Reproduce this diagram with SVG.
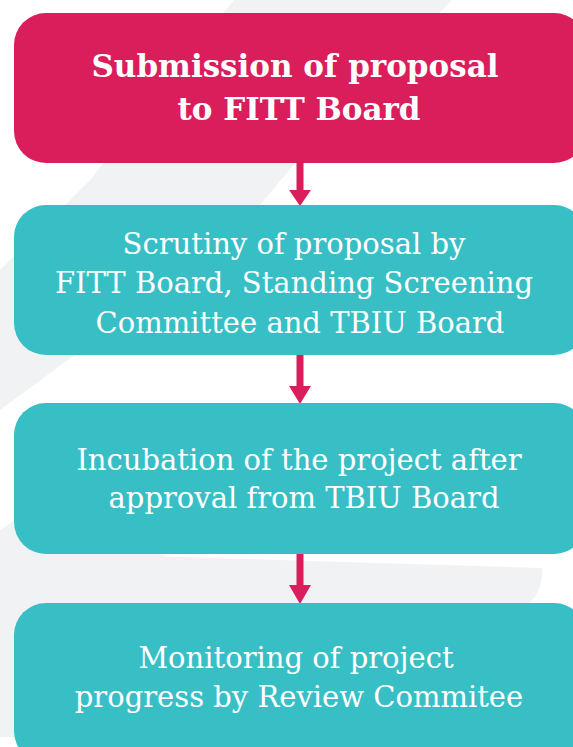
<svg xmlns="http://www.w3.org/2000/svg" width="573" height="747" viewBox="0 0 573 747">
<defs>
<style>
.bg{fill:#F1F2F4}
.pink{fill:#D91E5B}
.teal{fill:#38BFC5}
.t{font-family:"DejaVu Serif","Liberation Serif",serif;fill:#FFFFFF;text-anchor:middle}
.tb{font-size:31px;font-weight:bold}
.tr{font-size:29px}
.conn line{stroke:#D91E5B;stroke-width:7}
.conn polygon{fill:#D91E5B}
</style>
</defs>
<rect width="573" height="747" fill="#FFFFFF"/>
<g id="background">
<path class="bg" d="M234,0 L452,0 L295,163 L260,205 L80,351 L0,410 L0,270 L91,179 Z"/>
<path class="bg" d="M0,530 L30,510 L160,554 Q165,557 178,557 L542,568 C544,592 530,608 505,618 L300,700 L14,737 L0,737 Z"/>
</g>
<g id="connectors" class="conn">
<line x1="300" y1="160" x2="300" y2="192"/>
<polygon points="289,190 311,190 300,206"/>
<line x1="300" y1="352" x2="300" y2="388"/>
<polygon points="289,386 311,386 300,404"/>
<line x1="300" y1="551" x2="300" y2="587"/>
<polygon points="289,585 311,585 300,604"/>
</g>
<g id="node1">
<rect class="pink" x="14" y="13" width="572" height="150" rx="32"/>
<text class="t tb" x="295" y="77">Submission of proposal</text>
<text class="t tb" x="299" y="120">to FITT Board</text>
</g>
<g id="node2">
<rect class="teal" x="14" y="205" width="572" height="150" rx="32"/>
<text class="t tr" x="294" y="254">Scrutiny of proposal by</text>
<text class="t tr" x="294" y="293">FITT Board, Standing Screening</text>
<text class="t tr" x="300" y="333">Committee and TBIU Board</text>
</g>
<g id="node3">
<rect class="teal" x="14" y="403" width="572" height="151" rx="32"/>
<text class="t tr" x="299" y="470">Incubation of the project after</text>
<text class="t tr" x="304" y="508">approval from TBIU Board</text>
</g>
<g id="node4">
<rect class="teal" x="14" y="603" width="572" height="160" rx="32"/>
<text class="t tr" x="296" y="668">Monitoring of project</text>
<text class="t tr" x="299" y="707">progress by Review Commitee</text>
</g>
</svg>
